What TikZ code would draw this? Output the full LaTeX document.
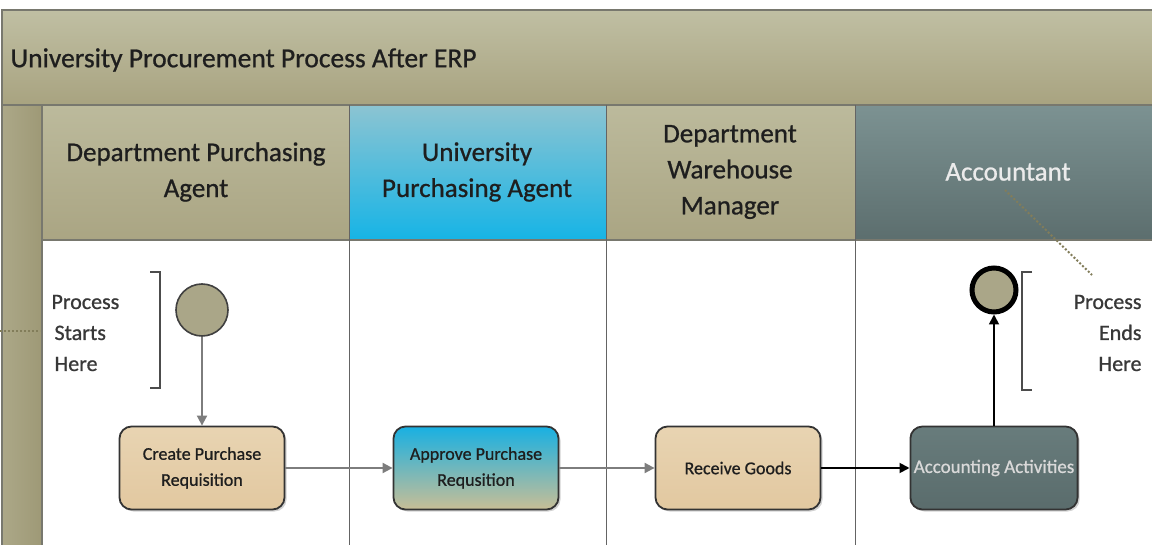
\documentclass[tikz,border=0pt]{standalone}
\usepackage{fontspec}
\setmainfont{Carlito}
\newfontfamily\semib[FakeBold=0.8]{Carlito}
\usetikzlibrary{arrows.meta,shadows}
\definecolor{titleTop}{RGB}{192,191,163}
\definecolor{titleBot}{RGB}{168,163,128}
\definecolor{hdrTop}{RGB}{188,186,156}
\definecolor{hdrBot}{RGB}{170,165,131}
\definecolor{stripL}{RGB}{172,168,136}
\definecolor{stripR}{RGB}{158,153,118}
\definecolor{cyanTop}{RGB}{140,196,210}
\definecolor{cyanBot}{RGB}{22,180,230}
\definecolor{accTop}{RGB}{124,146,146}
\definecolor{accBot}{RGB}{92,110,110}
\definecolor{boxTop}{RGB}{232,212,178}
\definecolor{boxBot}{RGB}{226,200,160}
\definecolor{abTop}{RGB}{24,176,226}
\definecolor{abBot}{RGB}{200,190,150}
\definecolor{accBox}{RGB}{104,124,124}
\definecolor{accBoxB}{RGB}{90,108,108}
\definecolor{frameC}{RGB}{120,120,110}
\definecolor{laneC}{RGB}{100,100,100}
\definecolor{arrG}{RGB}{125,125,125}
\definecolor{circF}{RGB}{170,166,136}
\definecolor{txtD}{RGB}{30,30,30}
\definecolor{dotC}{RGB}{130,125,90}
\tikzset{
  box/.style={draw=black!80, line width=1.8pt, rounded corners=12pt, minimum width=165pt,
    minimum height=83pt, align=center, font=\semib\fontsize{18}{26}\selectfont, text=txtD,
    drop shadow={shadow xshift=2pt, shadow yshift=-2pt, opacity=0.35}},
  hdr/.style={align=center, font=\semib\fontsize{27}{36}\selectfont, text=txtD},
  lbl/.style={font=\semib\fontsize{22}{31}\selectfont, text=black!78},
  arrg/.style={draw=arrG, line width=1.8pt, -{Triangle[width=10pt,length=10pt]}},
  arrk/.style={draw=black, line width=1.8pt, -{Triangle[width=10pt,length=10pt]}},
  brk/.style={draw=black!70, line width=2.2pt},
  dotl/.style={draw=dotC, line width=2pt, dotted},
}
\begin{document}
\begin{tikzpicture}[x=1pt,y=-1pt]
\useasboundingbox (0,0) rectangle (1152,545);
\fill[white] (0,0) rectangle (1152,545);
% title band
\shade[top color=titleTop, bottom color=titleBot] (2,10) rectangle (1152,105);
% left strip
\shade[left color=stripL, right color=stripR] (2,105) rectangle (42,545);
% header cells
\shade[top color=hdrTop, bottom color=hdrBot] (42,105) rectangle (349,240);
\shade[top color=cyanTop, bottom color=cyanBot] (349,105) rectangle (606,240);
\shade[top color=hdrTop, bottom color=hdrBot] (606,105) rectangle (855,240);
\shade[top color=accTop, bottom color=accBot] (855,105) rectangle (1152,240);
% frame and lane lines
\draw[frameC, line width=1.5pt] (2,545) -- (2,10) -- (1152,10);
\draw[frameC, line width=1.5pt] (2,105) -- (1152,105);
\draw[frameC, line width=1.2pt] (42,105) -- (42,545);
\draw[frameC, line width=1.2pt] (42,240) -- (1152,240);
\draw[laneC, line width=1pt] (349,105) -- (349,545);
\draw[laneC, line width=1pt] (606,105) -- (606,545);
\draw[laneC, line width=1pt] (855,105) -- (855,545);
% title
\node[anchor=west, font=\semib\fontsize{27.5}{32}\selectfont, text=txtD] (title) at (7,60) {University Procurement Process After ERP};
% headers
\node[hdr] (h1) at (196,172) {Department Purchasing\\Agent};
\node[hdr] (h2) at (477,172) {University\\Purchasing Agent};
\node[hdr] (h3) at (730,172) {Department\\Warehouse\\Manager};
\node[hdr, text=white!92!black] (h4) at (1008,172) {Accountant};
% start/end events
\node[circle, draw=black!75, line width=1.6pt, fill=circF, minimum size=52pt, inner sep=0pt] (start) at (202,310) {};
\node[circle, draw=black, line width=5pt, fill=circF, minimum size=44pt, inner sep=0pt] (end) at (994,290) {};
% tasks
\node[box, top color=boxTop, bottom color=boxBot] (create) at (202,468) {Create Purchase\\Requisition};
\node[box, top color=abTop, bottom color=abBot] (approve) at (476,468) {Approve Purchase\\Requsition};
\node[box, top color=boxTop, bottom color=boxBot] (receive) at (738,468) {Receive Goods};
\node[box, top color=accBox, bottom color=accBoxB, text=white!85!black, font=\semib\fontsize{19}{24}\selectfont] (acct) at (994,468) {Accounting Activities};
% connectors
\draw[arrg] (start) -- (create);
\draw[arrg] (create) -- (approve);
\draw[arrg] (approve) -- (receive);
\draw[arrk] (receive) -- (acct);
\draw[arrk] (acct) -- (end);
% annotations
\node[lbl, align=left, anchor=west] (pst) at (48,333) {Process\\\hspace*{3pt}Starts\\\hspace*{3pt}Here};
\node[lbl, align=right, anchor=east] (pen) at (1145,333) {Process\\Ends\\Here};
\draw[brk] (150,272) -- (160,272) -- (160,388) -- (150,388);
\draw[brk] (1032,272) -- (1022,272) -- (1022,390) -- (1032,390);
\coordinate (dl1) at (0,331);
\coordinate (dl2) at (40,331);
\coordinate (dr1) at (1005,190);
\coordinate (dr2) at (1092,275);
\draw[dotl] (dl1) -- (dl2);
\draw[dotl] (dr1) -- (dr2);
\end{tikzpicture}
\end{document}
